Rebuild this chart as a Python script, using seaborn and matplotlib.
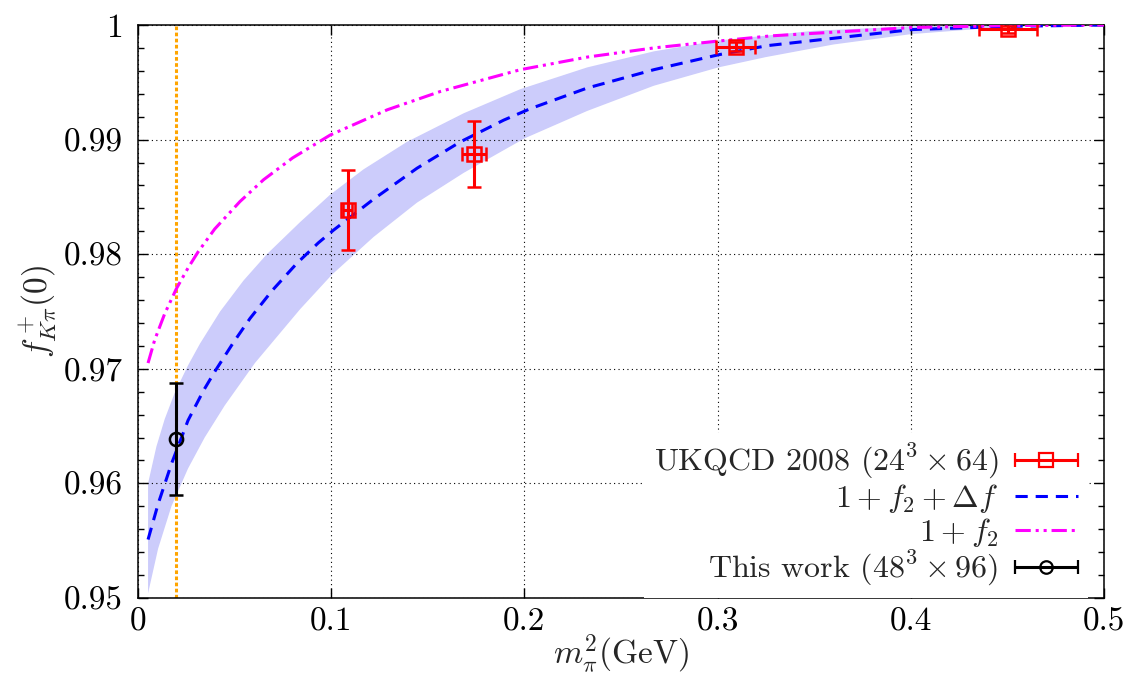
import numpy as np
import matplotlib
matplotlib.use("Agg")
import matplotlib.pyplot as plt
import seaborn as sns
from matplotlib.legend_handler import HandlerErrorbar
from matplotlib.ticker import MultipleLocator

# ---------------- data ----------------
# 1 + f2 + Delta f (central curve)
cen_x = [0.0052, 0.0104, 0.0173, 0.0259, 0.0339, 0.0399, 0.0494, 0.0580, 0.0693, 0.0822,
         0.0934, 0.1012, 0.1219, 0.1444, 0.1668, 0.1893, 0.2031, 0.2325, 0.2670, 0.3004,
         0.3258, 0.4005, 0.4500, 0.5000]
cen_y = [0.9551, 0.9582, 0.9617, 0.9655, 0.9681, 0.9698, 0.9723, 0.9744, 0.9768, 0.9792,
         0.9810, 0.9821, 0.9848, 0.9875, 0.9898, 0.9917, 0.9927, 0.9945, 0.9961, 0.9974,
         0.9982, 0.9996, 0.99988, 1.0]
# error band, upper and lower edges
up_x = [0.0052, 0.0095, 0.0138, 0.0190, 0.0259, 0.0321, 0.0425, 0.0546, 0.0667, 0.0839,
        0.0995, 0.1167, 0.1392, 0.1686, 0.1979, 0.2325, 0.2670, 0.3004, 0.3500, 0.4000,
        0.4500, 0.5000]
up_y = [0.9600, 0.9632, 0.9656, 0.9679, 0.9703, 0.9722, 0.9750, 0.9777, 0.9800, 0.9828,
        0.9852, 0.9874, 0.9898, 0.9923, 0.9944, 0.9963, 0.9977, 0.99865, 0.9995, 0.99988,
        0.99999, 1.0]
lo_x = [0.0052, 0.0104, 0.0173, 0.0259, 0.0345, 0.0449, 0.0605, 0.0839, 0.1003, 0.1219,
        0.1444, 0.1686, 0.2000, 0.2325, 0.2670, 0.3004, 0.3250, 0.3600, 0.4000, 0.4500,
        0.5000]
lo_y = [0.9504, 0.9543, 0.9580, 0.9613, 0.9640, 0.9668, 0.9705, 0.9752, 0.9782, 0.9815,
        0.9845, 0.9871, 0.9901, 0.9925, 0.9947, 0.9963, 0.9972, 0.9983, 0.9992, 0.99985,
        1.0]
# 1 + f2
f2_x = [0.0052, 0.0086, 0.0138, 0.0199, 0.0259, 0.0311, 0.0397, 0.0528, 0.0650, 0.0800,
        0.0995, 0.1290, 0.1565, 0.1979, 0.2325, 0.2670, 0.3004, 0.3275, 0.4005, 0.4500,
        0.5000]
f2_y = [0.9705, 0.9725, 0.9748, 0.9770, 0.9788, 0.9802, 0.9822, 0.9846, 0.9865, 0.9884,
        0.9904, 0.9926, 0.9942, 0.9961, 0.9972, 0.9980, 0.9986, 0.99905, 0.99978, 0.99995,
        1.0]
# UKQCD 2008 points
uk_x = [0.1085, 0.1737, 0.3093, 0.4504]
uk_y = [0.98386, 0.98875, 0.99811, 0.99962]
uk_xerr = [0.0025, 0.0062, 0.0101, 0.0149]
uk_yerr = [0.0035, 0.0029, 0.0004, 0.0003]
# This work
tw_x = [0.0195]
tw_y = [0.96385]
tw_yerr = [0.0049]
# physical pion mass squared
phys_x = 0.0195

x_ticks = [0, 0.1, 0.2, 0.3, 0.4, 0.5]
x_ticklabels = ["0", "0.1", "0.2", "0.3", "0.4", "0.5"]
y_ticks = [0.95, 0.96, 0.97, 0.98, 0.99, 1.0]
y_ticklabels = ["0.95", "0.96", "0.97", "0.98", "0.99", "1"]

lab_uk = r"UKQCD 2008 $(24^3\times 64)$"
lab_cen = r"$1+f_2+\Delta f$"
lab_f2 = r"$1+f_2$"
lab_tw = r"This work $(48^3\times 96)$"

# ---------------- style ----------------
sns.set_theme(style="ticks")
plt.rcParams["font.family"] = ["cmr10", "DejaVu Sans"]
plt.rcParams["mathtext.fontset"] = "cm"
plt.rcParams["axes.formatter.use_mathtext"] = True
plt.rcParams["axes.unicode_minus"] = False
FS = 24
LFS = 23

fig = plt.figure(figsize=(11.33, 6.77), dpi=100)
ax = fig.add_axes([138 / 1133, 1 - 598 / 677, (1104 - 138) / 1133, (598 - 25) / 677])

# band
ax.fill(list(up_x) + list(lo_x[::-1]), list(up_y) + list(lo_y[::-1]),
        color="#ccccfb", lw=0, zorder=1)

# curves
sns.lineplot(x=cen_x, y=cen_y, ax=ax, color="#0000ff", lw=2.2,
             linestyle=(0, (4, 2.6)), sort=False, zorder=3)
sns.lineplot(x=f2_x, y=f2_y, ax=ax, color="#ff00ff", lw=2.2,
             linestyle=(0, (5, 1.6, 1, 1.6, 1, 1.6)), sort=False, zorder=3)

# physical point
ax.axvline(phys_x, color="#ffa500", lw=2.2, linestyle=(0, (1.2, 0.8)), zorder=2)

# data points
ax.errorbar(uk_x, uk_y, xerr=uk_xerr, yerr=uk_yerr, fmt="s", color="#ff0000",
            mfc="none", ms=10, mew=1.8, elinewidth=2.2, capsize=4.7, capthick=2.2, zorder=4)
ax.errorbar(tw_x, tw_y, yerr=tw_yerr, fmt="o", color="black",
            mfc="none", ms=9.5, mew=1.8, elinewidth=2.2, capsize=4.7, capthick=2.2, zorder=4)

# legend proxies
h_uk = ax.errorbar([np.nan], [np.nan], xerr=[0.01], fmt="s", color="#ff0000",
                   mfc="none", ms=10, mew=1.6, elinewidth=2.2, capsize=4.7, capthick=2.2)
h_tw = ax.errorbar([np.nan], [np.nan], xerr=[0.01], fmt="o", color="black",
                   mfc="none", ms=9, mew=1.6, elinewidth=2.2, capsize=4.7, capthick=2.2)
h_cen = ax.lines[0]
h_f2 = ax.lines[1]

ax.set_xlim(0, 0.5)
ax.set_ylim(0.95, 1.0)
ax.set_xticks(x_ticks)
ax.set_xticklabels(x_ticklabels)
ax.set_yticks(y_ticks)
ax.set_yticklabels(y_ticklabels)
ax.yaxis.set_minor_locator(MultipleLocator(0.002))
ax.tick_params(which="both", direction="in", top=True, right=True, colors="black",
               labelsize=FS, width=1.0)
ax.tick_params(which="major", length=7)
ax.tick_params(which="minor", length=4)
ax.tick_params(axis="y", pad=11)
ax.tick_params(axis="x", pad=7)
for s in ax.spines.values():
    s.set_color("black")
    s.set_linewidth(1.1)

ax.set_axisbelow(False)
ax.grid(True, which="major", color="black", lw=0.8, linestyle=(0, (1, 3)))

ax.set_xlabel(r"$m_\pi^2(\mathrm{GeV})$", fontsize=FS, labelpad=-3)
ax.set_ylabel(r"$f^+_{K\pi}(0)$", fontsize=FS, labelpad=4)

leg = ax.legend([h_uk, h_cen, h_f2, h_tw], [lab_uk, lab_cen, lab_f2, lab_tw],
                loc="lower right", bbox_to_anchor=(1 - 16 / 966, 0.0),
                markerfirst=False, fontsize=LFS,
                handlelength=2.0, handletextpad=0.5, labelspacing=0.02,
                borderaxespad=0.0, borderpad=0.3, frameon=True, fancybox=False,
                handler_map={h_uk: HandlerErrorbar(xerr_size=1.0),
                             h_tw: HandlerErrorbar(xerr_size=1.0)})
leg.get_frame().set_facecolor("white")
leg.get_frame().set_edgecolor("none")
leg.get_frame().set_alpha(1.0)

fig.savefig("out.png", dpi=100)
